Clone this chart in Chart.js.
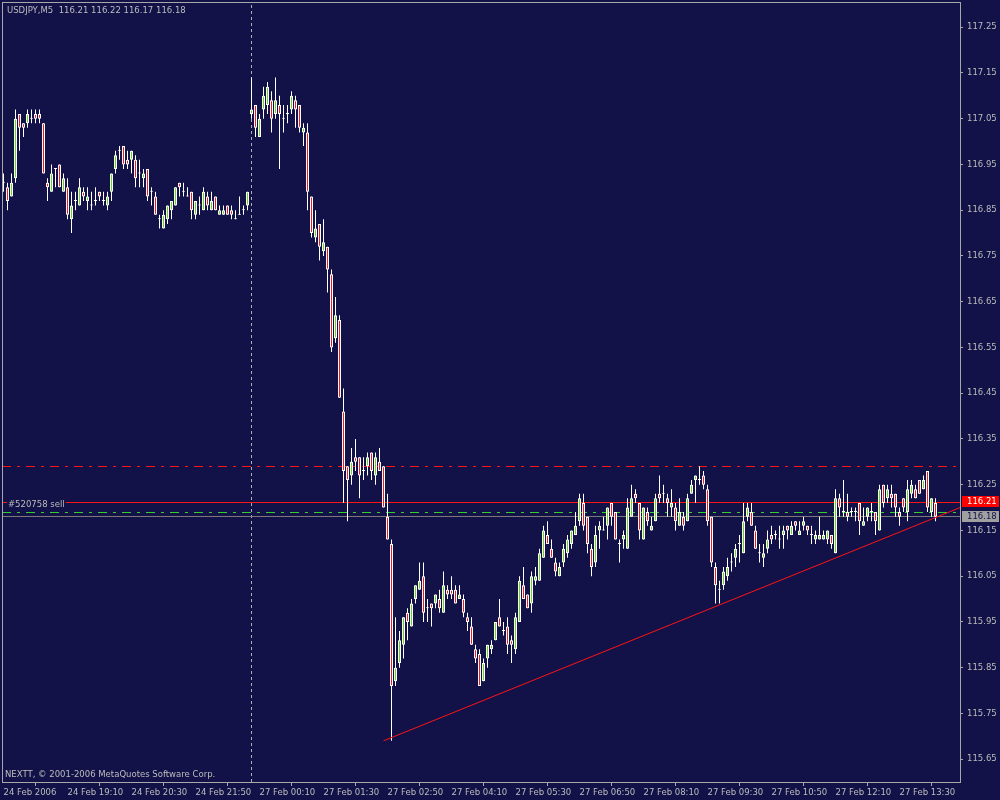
<!DOCTYPE html>
<html>
<head>
<meta charset="utf-8">
<title>USDJPY,M5</title>
<script src="https://cdn.jsdelivr.net/npm/chart.js@4.4.1/dist/chart.umd.min.js"></script>
<style>
  html, body { margin: 0; padding: 0; background: #121249; }
  #wrap { width: 1000px; height: 800px; }
</style>
</head>
<body>
<div id="wrap"><canvas id="mainChart" width="1000" height="800"></canvas></div>
<script>
// symbol and texts
const symbolName = 'USDJPY,M5';
const copyrightText = 'NEXTT, © 2001-2006 MetaQuotes Software Corp.';
const orderLabel = '#520758 sell';

// M5 bars, 24 Feb 17:50 .. 27 Feb 13:55 (bar index = position)
const opens = [
  116.91,116.90,116.88,116.92,117.06,117.04,117.04,117.05,117.06,117.06,
  117.04,116.91,116.89,116.94,116.95,116.89,116.90,116.83,116.87,116.86,
  116.89,116.87,116.86,116.87,116.89,116.87,116.86,116.89,116.94,116.98,
  116.99,116.96,116.96,116.96,116.93,116.92,116.94,116.89,116.88,116.83,
  116.81,116.83,116.85,116.86,116.91,116.89,116.88,116.89,116.84,116.86,
  116.85,116.88,116.85,116.88,116.84,116.84,116.86,116.85,116.83,116.84,
  116.85,116.86,117.06,117.08,117.01,117.07,117.08,117.09,117.06,117.08,
  117.05,117.06,117.07,117.09,117.08,117.02,117.02,116.88,116.79,116.82,
  116.76,116.77,116.71,116.57,116.61,116.41,116.29,116.27,116.31,116.31,
  116.28,116.29,116.32,116.27,116.30,116.29,116.18,116.12,115.82,115.86,
  115.90,115.97,115.94,116.00,116.02,116.05,115.98,115.99,115.99,116.00,
  115.97,116.02,116.02,116.02,116.00,116.00,115.96,115.94,115.89,115.88,
  115.82,115.87,115.89,115.91,115.96,115.93,115.94,115.91,115.89,115.95,
  116.03,116.01,115.99,116.04,116.04,116.09,116.14,116.11,116.08,116.05,
  116.08,116.10,116.12,116.14,116.17,116.21,116.18,116.11,116.08,116.15,
  116.15,116.16,116.21,116.19,116.12,116.13,116.11,116.18,116.23,116.21,
  116.13,116.19,116.15,116.17,116.23,116.23,116.22,116.20,116.20,116.16,
  116.18,116.17,116.23,116.26,116.26,116.27,116.24,116.18,116.07,116.02,
  116.03,116.05,116.08,116.09,116.12,116.10,116.18,116.19,116.15,116.10,
  116.09,116.11,116.14,116.14,116.13,116.14,116.16,116.14,116.17,116.14,
  116.16,116.16,116.14,116.13,116.13,116.13,116.13,116.14,116.10,116.22,
  116.19,116.19,116.19,116.19,116.21,116.16,116.18,116.19,116.19,116.15,
  116.25,116.22,116.23,116.23,116.19,116.22,116.19,116.23,116.24,116.26,
  116.24,116.28,116.19,116.21
];
const highs = [
  116.93,116.91,116.93,117.07,117.06,117.04,117.07,117.07,117.07,117.07,
  117.04,116.92,116.95,116.94,116.95,116.93,116.92,116.89,116.89,116.92,
  116.90,116.90,116.89,116.90,116.89,116.89,116.89,116.93,116.98,116.99,
  116.99,116.98,116.98,116.97,116.96,116.94,116.94,116.90,116.89,116.84,
  116.85,116.86,116.87,116.90,116.91,116.91,116.90,116.89,116.87,116.88,
  116.90,116.89,116.89,116.88,116.86,116.86,116.86,116.86,116.85,116.88,
  116.86,116.89,117.14,117.08,117.06,117.12,117.13,117.11,117.14,117.10,
  117.08,117.08,117.11,117.10,117.08,117.04,117.04,116.88,116.85,116.82,
  116.83,116.77,116.72,116.66,116.62,116.46,116.29,116.33,116.35,116.31,
  116.31,116.32,116.32,116.32,116.33,116.29,116.23,116.13,115.96,115.93,
  115.96,115.98,116.00,116.03,116.08,116.08,116.00,115.99,116.01,116.02,
  116.06,116.03,116.05,116.03,116.03,116.01,115.97,115.96,115.90,115.89,
  115.87,115.90,115.91,115.95,116.00,115.95,115.96,115.92,115.97,116.05,
  116.07,116.01,116.06,116.07,116.11,116.16,116.17,116.13,116.09,116.08,
  116.12,116.14,116.15,116.19,116.23,116.23,116.18,116.12,116.16,116.17,
  116.18,116.20,116.21,116.19,116.13,116.15,116.22,116.25,116.24,116.21,
  116.20,116.20,116.18,116.23,116.27,116.25,116.23,116.24,116.21,116.22,
  116.19,116.23,116.26,116.27,116.29,116.28,116.25,116.18,116.08,116.04,
  116.07,116.09,116.10,116.12,116.14,116.21,116.21,116.21,116.16,116.12,
  116.12,116.15,116.16,116.15,116.16,116.16,116.16,116.17,116.17,116.17,
  116.18,116.16,116.16,116.15,116.18,116.15,116.15,116.14,116.24,116.23,
  116.26,116.23,116.20,116.20,116.21,116.20,116.20,116.21,116.19,116.25,
  116.25,116.25,116.25,116.23,116.20,116.22,116.26,116.26,116.25,116.26,
  116.27,116.28,116.22,116.22
];
const lows = [
  116.89,116.85,116.88,116.91,116.98,117.01,117.03,117.04,117.04,117.04,
  116.93,116.87,116.89,116.90,116.90,116.89,116.83,116.80,116.85,116.86,
  116.87,116.85,116.85,116.86,116.87,116.86,116.85,116.87,116.93,116.96,
  116.94,116.94,116.93,116.90,116.90,116.90,116.87,116.86,116.84,116.81,
  116.81,116.82,116.83,116.86,116.88,116.88,116.88,116.83,116.83,116.84,
  116.85,116.85,116.85,116.85,116.84,116.84,116.84,116.83,116.83,116.84,
  116.84,116.85,117.05,117.01,117.01,117.05,117.06,117.02,117.05,116.94,
  117.02,117.04,117.06,117.03,117.02,116.99,116.85,116.79,116.78,116.74,
  116.75,116.67,116.54,116.56,116.44,116.21,116.17,116.25,116.28,116.22,
  116.26,116.27,116.26,116.25,116.28,116.20,116.13,115.69,115.81,115.85,
  115.87,115.91,115.94,115.99,116.02,115.95,115.95,115.94,115.98,115.97,
  115.97,116.00,116.00,115.99,116.00,115.96,115.93,115.90,115.86,115.81,
  115.82,115.85,115.88,115.91,115.94,115.92,115.88,115.86,115.88,115.95,
  116.00,115.98,115.97,116.03,116.04,116.09,116.12,116.09,116.05,116.05,
  116.07,116.09,116.11,116.14,116.16,116.15,116.10,116.05,116.07,116.11,
  116.15,116.13,116.16,116.13,116.08,116.11,116.11,116.18,116.21,116.13,
  116.13,116.16,116.15,116.17,116.21,116.21,116.18,116.18,116.15,116.16,
  116.15,116.17,116.23,116.21,116.25,116.24,116.16,116.07,115.99,115.99,
  116.02,116.04,116.06,116.07,116.08,116.10,116.17,116.16,116.11,116.08,
  116.07,116.10,116.12,116.13,116.11,116.11,116.13,116.14,116.15,116.14,
  116.15,116.14,116.12,116.12,116.13,116.13,116.12,116.11,116.10,116.18,
  116.18,116.17,116.18,116.17,116.14,116.16,116.17,116.17,116.14,116.15,
  116.20,116.21,116.20,116.18,116.16,116.19,116.17,116.22,116.22,116.23,
  116.24,116.19,116.18,116.17
];
const closes = [
  116.91,116.87,116.91,117.05,117.03,117.03,117.06,117.05,117.05,117.05,
  116.93,116.90,116.93,116.94,116.90,116.92,116.84,116.86,116.87,116.90,
  116.88,116.88,116.86,116.87,116.88,116.87,116.88,116.93,116.97,116.98,
  116.95,116.95,116.98,116.92,116.93,116.93,116.88,116.89,116.84,116.83,
  116.84,116.86,116.87,116.90,116.90,116.89,116.88,116.85,116.87,116.86,
  116.89,116.86,116.87,116.85,116.85,116.85,116.84,116.84,116.83,116.84,
  116.85,116.89,117.07,117.03,117.05,117.10,117.12,117.05,117.09,117.06,
  117.05,117.06,117.10,117.07,117.03,117.03,116.89,116.80,116.81,116.77,
  116.78,116.72,116.55,116.62,116.44,116.28,116.26,116.30,116.30,116.27,
  116.28,116.31,116.28,116.31,116.28,116.20,116.13,115.81,115.85,115.91,
  115.96,115.95,115.99,116.03,116.04,115.97,115.98,115.98,116.01,115.98,
  116.03,116.01,116.01,115.99,116.01,115.97,115.95,115.90,115.87,115.81,
  115.86,115.90,115.90,115.95,115.94,115.93,115.90,115.90,115.96,116.04,
  116.00,115.98,116.05,116.05,116.10,116.15,116.12,116.09,116.06,116.07,
  116.11,116.13,116.15,116.16,116.22,116.16,116.12,116.07,116.14,116.16,
  116.15,116.20,116.18,116.13,116.12,116.14,116.20,116.22,116.22,116.15,
  116.20,116.17,116.16,116.22,116.22,116.23,116.21,116.21,116.17,116.19,
  116.16,116.22,116.25,116.27,116.26,116.25,116.17,116.08,116.03,116.02,
  116.06,116.07,116.08,116.11,116.12,116.17,116.20,116.16,116.11,116.10,
  116.10,116.13,116.13,116.14,116.13,116.15,116.15,116.16,116.16,116.15,
  116.17,116.15,116.14,116.14,116.14,116.14,116.15,116.12,116.22,116.20,
  116.19,116.18,116.19,116.19,116.17,116.17,116.20,116.19,116.17,116.24,
  116.21,116.24,116.22,116.20,116.18,116.20,116.24,116.25,116.22,116.23,
  116.26,116.20,116.22,116.18
];

// time axis: a label every 16 bars
const xTickBars = [0, 16, 32, 48, 64, 80, 96, 112, 128, 144, 160, 176, 192, 208, 224];
const xTickLabels = [
  '24 Feb 2006', '24 Feb 19:10', '24 Feb 20:30', '24 Feb 21:50', '27 Feb 00:10',
  '27 Feb 01:30', '27 Feb 02:50', '27 Feb 04:10', '27 Feb 05:30', '27 Feb 06:50',
  '27 Feb 08:10', '27 Feb 09:30', '27 Feb 10:50', '27 Feb 12:10', '27 Feb 13:30'
];
// price axis
const yTicks = [
  115.65, 115.75, 115.85, 115.95, 116.05, 116.15, 116.25, 116.35, 116.45,
  116.55, 116.65, 116.75, 116.85, 116.95, 117.05, 117.15, 117.25
];

// objects on the chart
const sessionBreakBar = 62;
const orderPrice = 116.21;
const upperLevel = 116.29;
const lowerLevel = 116.19;
const bidPrice = closes[closes.length - 1];
const trendBars = [95, 239.2];
const trendPrices = [115.69, 116.20];

// cores
const BG = '#121249';
const TXT = '#bcbcbc';
const FRAME = '#a8a8a8';
const BULL = '#66d41c';
const BEAR = '#ee1c1c';
const RED_LINE = '#ff1414';

const X_MIN = -0.375, X_MAX = 239.125;
const Y_MIN = 115.6, Y_MAX = 117.305;

Chart.defaults.font.family = "'DejaVu Sans', sans-serif";
Chart.defaults.font.size = 8.5;
Chart.defaults.color = TXT;

const bodyData = opens.map((o, i) => ({ x: i, y: [o, closes[i]] }));
const bodyColors = opens.map((o, i) => closes[i] > o ? BULL : (closes[i] < o ? BEAR : '#ffffff'));
const wickData = lows.map((l, i) => ({ x: i, y: [l, highs[i]] }));

const hLine = (price) => [{ x: X_MIN, y: price }, { x: X_MAX, y: price }];

// zera o espaço extra que o Chart.js reserva para o primeiro/último rótulo
const noScalePadding = (s) => {
    s.paddingTop = 0; s.paddingBottom = 0; s.paddingLeft = 0; s.paddingRight = 0;
};

const mt4Overlay = {
    id: 'mt4Overlay',
    beforeDraw(chart) {
        const c = chart.ctx;
        c.save();
        c.fillStyle = BG;
        c.fillRect(0, 0, chart.width, chart.height);
        c.restore();
    },
    // linhas horizontais nítidas: desloca até o centro do pixel
    beforeDatasetDraw(chart, args) {
        const ds = chart.data.datasets[args.index];
        chart.ctx.save();
        if (ds.snapPrice !== undefined) {
            const y = chart.scales.y.getPixelForValue(ds.snapPrice);
            chart.ctx.translate(0, Math.floor(y) + 0.5 - y);
        }
    },
    afterDatasetDraw(chart) {
        chart.ctx.restore();
    },
    afterDatasetsDraw(chart) {
        const c = chart.ctx;
        const y = Math.floor(chart.scales.y.getPixelForValue(orderPrice));
        c.save();
        c.font = "8.5px 'DejaVu Sans'";
        const w = c.measureText(orderLabel).width;
        c.fillStyle = BG;
        c.fillRect(7, y - 3, w + 2, 10);
        c.fillStyle = TXT;
        c.textBaseline = 'middle';
        c.fillText(orderLabel, 8, y + 3);
        c.restore();
    },
    afterDraw(chart) {
        const c = chart.ctx;
        const a = chart.chartArea;
        const ys = chart.scales.y;
        c.save();
        // moldura
        c.strokeStyle = FRAME;
        c.lineWidth = 1;
        c.strokeRect(a.left + 0.5, a.top + 0.5, a.right - a.left, a.bottom - a.top);

        c.font = "8.5px 'DejaVu Sans'";
        c.textBaseline = 'middle';
        c.fillStyle = TXT;
        const n = closes.length - 1;
        const head = symbolName + '  ' + [opens[n], highs[n], lows[n], closes[n]].map(v => v.toFixed(2)).join(' ');
        c.fillText(head, 7, 11);
        c.fillText(copyrightText, 5, 775);

        // caixas de preço no eixo
        const yo = Math.floor(ys.getPixelForValue(orderPrice));
        c.fillStyle = '#ff0000';
        c.fillRect(962, yo - 6, 37, 11);
        c.fillStyle = '#ffffff';
        c.fillText(orderPrice.toFixed(2), 967, yo);

        const yb = Math.floor(ys.getPixelForValue(bidPrice));
        c.fillStyle = '#a0a0a0';
        c.fillRect(962, yb - 5, 37, 11);
        c.fillStyle = BG;
        c.fillText(bidPrice.toFixed(2), 967, yb + 1);
        c.restore();
    }
};

const ctx = document.getElementById('mainChart').getContext('2d');

new Chart(ctx, {
    type: 'bar',
    data: {
        datasets: [
            {
                label: 'body',
                data: bodyData,
                backgroundColor: bodyColors,
                borderColor: '#ffffff',
                borderWidth: 1,
                borderSkipped: false,
                barThickness: 3,
                minBarLength: 1,
                inflateAmount: 0,
                grouped: false,
                order: 1
            },
            {
                label: 'wick',
                data: wickData,
                backgroundColor: '#ffffff',
                borderWidth: 0,
                barThickness: 1,
                inflateAmount: 0,
                grouped: false,
                order: 2
            },
            {
                type: 'line',
                label: 'trend',
                data: trendBars.map((b, i) => ({ x: b, y: trendPrices[i] })),
                borderColor: RED_LINE,
                borderWidth: 1,
                pointRadius: 0,
                order: 0
            },
            {
                type: 'line',
                label: 'upper',
                data: hLine(upperLevel),
                snapPrice: upperLevel,
                borderColor: RED_LINE,
                borderWidth: 1,
                borderDash: [9, 6, 3, 6],
                pointRadius: 0,
                order: 3
            },
            {
                type: 'line',
                label: 'order',
                data: hLine(orderPrice),
                snapPrice: orderPrice,
                borderColor: RED_LINE,
                borderWidth: 1,
                pointRadius: 0,
                order: 3
            },
            {
                type: 'line',
                label: 'lower',
                data: hLine(lowerLevel),
                snapPrice: lowerLevel,
                borderColor: '#32cd32',
                borderWidth: 1,
                borderDash: [9, 6, 3, 6],
                pointRadius: 0,
                order: 3
            },
            {
                type: 'line',
                label: 'bid',
                data: hLine(bidPrice),
                snapPrice: bidPrice,
                borderColor: '#7a7a7a',
                borderWidth: 1,
                pointRadius: 0,
                order: 3
            },
            {
                type: 'line',
                label: 'separator',
                data: [{ x: sessionBreakBar, y: Y_MIN }, { x: sessionBreakBar, y: Y_MAX }],
                borderColor: '#b0b0b0',
                borderWidth: 1,
                borderDash: [3, 3],
                pointRadius: 0,
                order: 4
            }
        ]
    },
    plugins: [mt4Overlay],
    options: {
        responsive: false,
        devicePixelRatio: 1,
        animation: false,
        layout: { padding: { left: 2, top: 2, right: 0, bottom: 0 } },
        plugins: {
            legend: { display: false },
            tooltip: { enabled: false }
        },
        scales: {
            x: {
                type: 'linear',
                min: X_MIN,
                max: X_MAX,
                offset: false,
                afterBuildTicks: (s) => { s.ticks = xTickBars.map(v => ({ value: v })); },
                afterFit: (s) => { s.height = 18; noScalePadding(s); },
                border: { display: false },
                grid: { drawOnChartArea: false, tickLength: 4, tickColor: FRAME },
                ticks: {
                    autoSkip: false,
                    maxRotation: 0,
                    align: 'start',
                    padding: 2,
                    color: TXT,
                    callback: (v) => xTickLabels[xTickBars.indexOf(v)]
                }
            },
            y: {
                position: 'right',
                min: Y_MIN,
                max: Y_MAX,
                afterBuildTicks: (s) => { s.ticks = yTicks.map(v => ({ value: v })); },
                afterFit: (s) => { s.width = 40; noScalePadding(s); },
                border: { display: false },
                grid: { drawOnChartArea: false, tickLength: 3, tickColor: FRAME },
                ticks: {
                    padding: 4,
                    color: TXT,
                    callback: (v) => Number(v).toFixed(2)
                }
            }
        }
    }
});
</script>
</body>
</html>
